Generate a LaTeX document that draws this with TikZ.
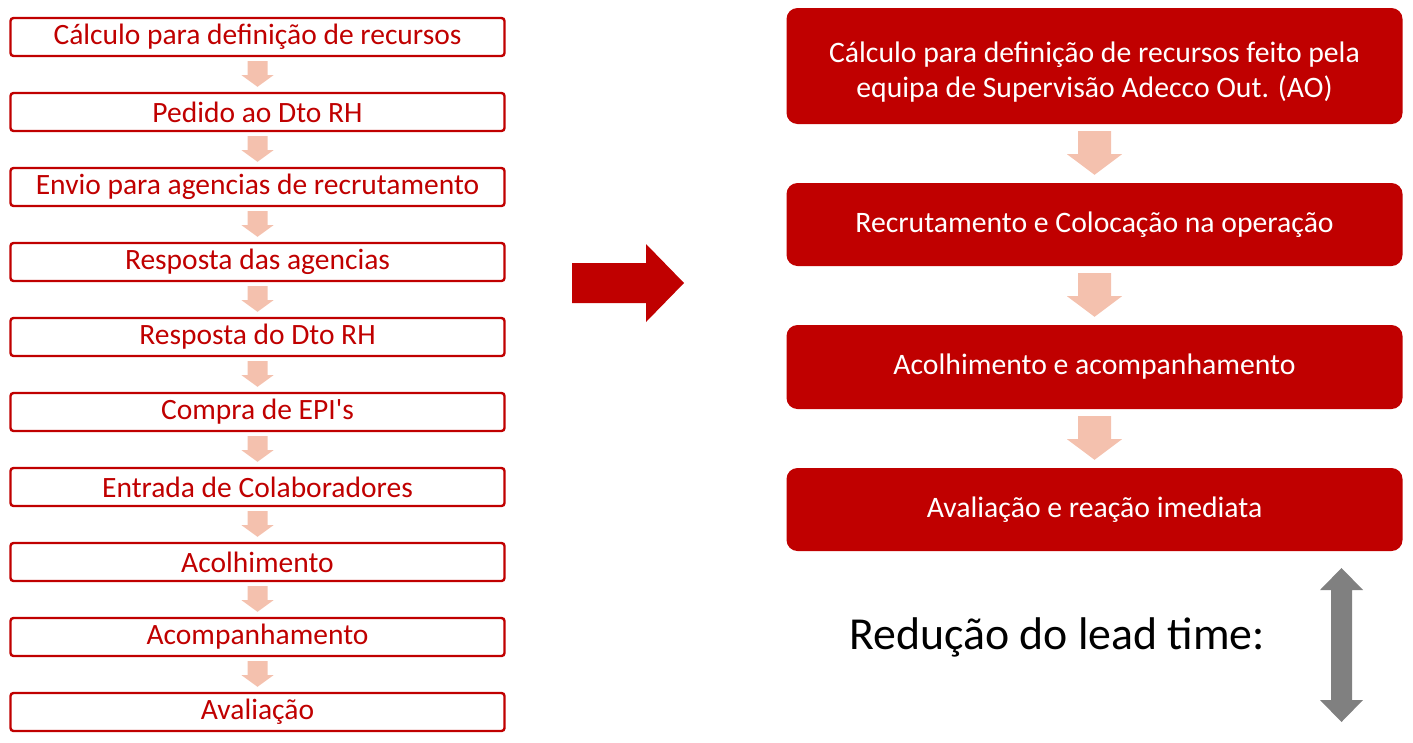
\documentclass[tikz,border=0pt]{standalone}
\usepackage{fontspec}
\setmainfont{Carlito}
\usetikzlibrary{calc}
\definecolor{dred}{HTML}{C00000}
\definecolor{salmon}{HTML}{F4C1AE}
\definecolor{greyarrow}{HTML}{808080}
\newcommand{\straightquote}{\XeTeXglyph\XeTeXcharglyph"0027\relax}
\begin{document}
\begin{tikzpicture}[x=1pt,y=-1pt,
  leftbox/.style={draw=dred,line width=2.4pt,rounded corners=3pt,fill=white,minimum width=494pt,minimum height=38pt,inner sep=0pt,text=dred,font=\fontsize{29.5}{34}\selectfont},
  rightbox/.style={fill=dred,rounded corners=11pt,minimum width=616pt,inner sep=0pt,text=white,align=center,font=\fontsize{29.7}{34.5}\selectfont},
  smallarrow/.style={fill=salmon,draw=none},
  bigarrow/.style={fill=dred,draw=none},
  greyarr/.style={fill=greyarrow,draw=none}]
\useasboundingbox (0,0) rectangle (1413,742);
% left column
\foreach \i/\t in {1/{Cálculo para definição de recursos},2/{Pedido ao Dto RH},3/{Envio para agencias de recrutamento},4/{Resposta das agencias},5/{Resposta do Dto RH},6/{Compra de EPI\straightquote s},7/{Entrada de Colaboradores},8/{Acolhimento},9/{Acompanhamento},10/{Avaliação}}{
  \node[leftbox] (L\i) at (257.5,{37+75*(\i-1)}) {\t};
}
\foreach \i [evaluate=\i as \j using int(\i+1)] in {1,...,9}{
  \fill[smallarrow] ($(L\i.south)+(-10,4)$) -- ($(L\i.south)+(10,4)$) -- ($(L\i.south)+(10,18)$) -- ($(L\i.south)+(16,18)$) -- ($(L\j.north)+(0,-5)$) -- ($(L\i.south)+(-16,18)$) -- ($(L\i.south)+(-10,18)$) -- cycle;
}
% big arrow
\coordinate (bigtail) at (572,283);
\coordinate (bigtip) at (684,283);
\fill[bigarrow] ($(bigtail)+(0,-20)$) -- ($(bigtail)+(74,-20)$) -- ($(bigtail)+(74,-39)$) -- (bigtip) -- ($(bigtail)+(74,39)$) -- ($(bigtail)+(74,20)$) -- ($(bigtail)+(0,20)$) -- cycle;
% right column
\node[rightbox,minimum height=116pt,text depth=0pt] (R1) at (1094.5,66) {\raisebox{14pt}{\begin{tabular}{@{}c@{}}Cálculo para definição de recursos feito pela\\equipa de Supervisão Adecco Out. (AO)\end{tabular}}};
\node[rightbox,minimum height=83pt] (R2) at (1094.5,224.5) {Recrutamento e Colocação na operação};
\node[rightbox,minimum height=84pt] (R3) at (1094.5,367) {Acolhimento e acompanhamento};
\node[rightbox,minimum height=83pt] (R4) at (1094.5,509.5) {Avaliação e reação imediata};
\foreach \i/\j in {1/2,2/3,3/4}{
  \fill[smallarrow] ($(R\i.south)+(-16.5,7)$) -- ($(R\i.south)+(16.5,7)$) -- ($(R\i.south)+(16.5,30)$) -- ($(R\i.south)+(27.5,30)$) -- ($(R\j.north)+(0,-8)$) -- ($(R\i.south)+(-27.5,30)$) -- ($(R\i.south)+(-16.5,30)$) -- cycle;
}
% lead time
\node[font=\fontsize{45.8}{54}\selectfont,anchor=center] (lead) at (1057,637) {Redução do lead time:};
\coordinate (gtop) at (1341.5,568);
\coordinate (gbot) at (1341.5,722);
\fill[greyarr] (gtop) -- ($(gtop)+(21.5,22)$) -- ($(gtop)+(10.5,22)$) -- ($(gbot)+(10.5,-22)$) -- ($(gbot)+(21.5,-22)$) -- (gbot) -- ($(gbot)+(-21.5,-22)$) -- ($(gbot)+(-10.5,-22)$) -- ($(gtop)+(-10.5,22)$) -- ($(gtop)+(-21.5,22)$) -- cycle;
\end{tikzpicture}
\end{document}
